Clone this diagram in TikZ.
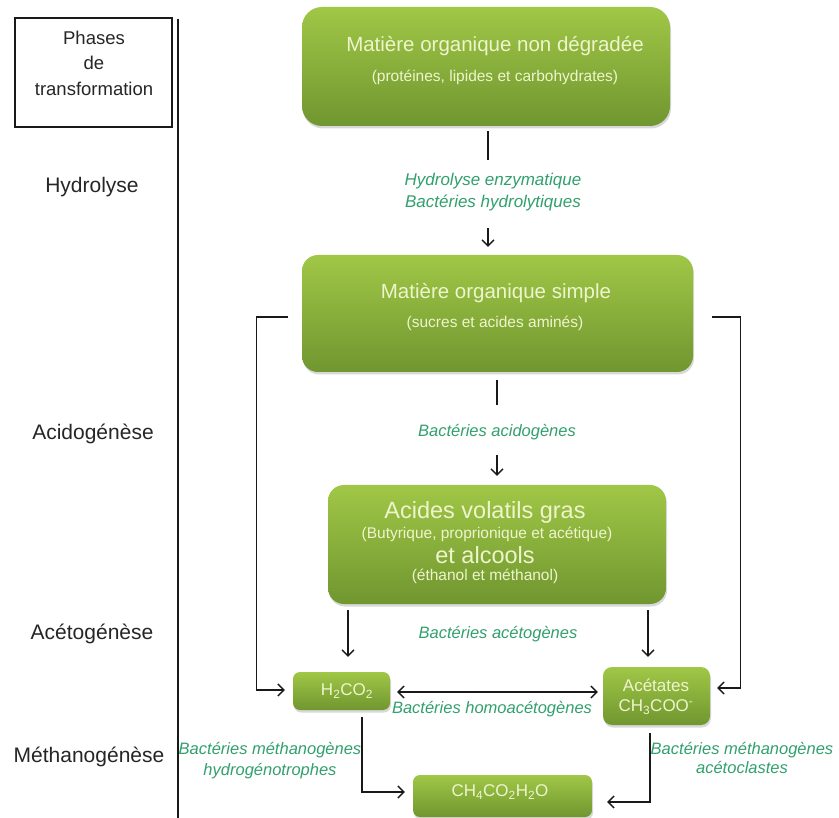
\documentclass[tikz,border=0pt]{standalone}
\usepackage{fontspec}
\setmainfont{Liberation Sans}
\usetikzlibrary{arrows.meta,shadows}
\definecolor{gtop}{RGB}{160,199,70}
\definecolor{gbot}{RGB}{112,150,48}
\definecolor{gtxt}{RGB}{238,245,204}
\definecolor{lblcol}{RGB}{50,160,110}
\definecolor{ink}{RGB}{25,25,25}
\begin{document}
\begin{tikzpicture}[x=1pt,y=-1pt,
  plain/.style={draw=ink,line width=1.3pt},
  arr/.style={draw=ink,line width=1.3pt,-{Straight Barb[length=6pt,width=12pt,line width=1.3pt]}},
  arrtwo/.style={draw=ink,line width=1.3pt,{Straight Barb[length=6pt,width=12pt,line width=1.3pt]}-{Straight Barb[length=6pt,width=12pt,line width=1.3pt]}},
  gbox/.style={rounded corners=#1, top color=gtop, bottom color=gbot, draw=none, inner sep=0pt,
    drop shadow={shadow xshift=1pt,shadow yshift=-2.5pt,opacity=0.3}},
  gbox/.default=14pt,
  ttl/.style={text=gtxt, font=\fontsize{20.5}{24}\selectfont, inner sep=0pt},
  bigttl/.style={text=gtxt, font=\fontsize{23.5}{27}\selectfont, inner sep=0pt},
  subtxt/.style={text=gtxt, font=\fontsize{15.5}{18}\selectfont, inner sep=0pt},
  smalltxt/.style={text=gtxt, font=\fontsize{17}{20}\selectfont, inner sep=0pt, align=center},
  lblst/.style={text=lblcol, font=\itshape\fontsize{16.5}{21}\selectfont, align=center, inner sep=0pt},
  phase/.style={text=black!85, font=\fontsize{21}{25}\selectfont, inner sep=0pt},
]
\fill[white] (0,0) rectangle (839,818);
\useasboundingbox (0,0) rectangle (839,818);

% left column
\node[draw=ink, line width=1.2pt, minimum width=157pt, minimum height=109pt, inner sep=0pt] (phbox) at (93.5,72.5) {};
\node[text=black!85, font=\fontsize{18.5}{25.5}\selectfont, align=center, inner sep=0pt] (phtxt) at (94,63) {Phases\\de\\transformation};
\coordinate (vtop) at (178,19);
\coordinate (vbot) at (178,818);
\draw[plain] (vtop) -- (vbot);
\node[phase] (ph1) at (92,187) {Hydrolyse};
\node[phase] (ph2) at (93,434) {Acidogénèse};
\node[phase] (ph3) at (92,634) {Acétogénèse};
\node[phase] (ph4) at (89,757) {Méthanogénèse};

% boxes
\node[gbox=20pt, minimum width=368pt, minimum height=119pt] (b1) at (486,66.5) {};
\node[ttl] (b1t) at (495,46) {Matière organique non dégradée};
\node[subtxt] (b1s) at (495,77) {(protéines, lipides et carbohydrates)};

\node[gbox=16pt, minimum width=391pt, minimum height=117pt] (b2) at (497.5,313.5) {};
\node[ttl] (b2t) at (496,293) {Matière organique simple};
\node[subtxt] (b2s) at (495,323) {(sucres et acides aminés)};

\node[gbox=16pt, minimum width=338pt, minimum height=119pt] (b3) at (497,544.5) {};
\node[bigttl] (b3t) at (485,512) {Acides volatils gras};
\node[subtxt] (b3s) at (487,534) {(Butyrique, proprionique et acétique)};
\node[bigttl] (b3u) at (485,555) {et alcools};
\node[subtxt] (b3v) at (485,576) {(éthanol et méthanol)};

\node[gbox=7pt, minimum width=97pt, minimum height=38pt] (h2) at (341.5,691) {};
\node[smalltxt] (h2t) at (347,691) {H\textsubscript{2}CO\textsubscript{2}};

\node[gbox=9pt, minimum width=107pt, minimum height=58pt] (ac) at (656.5,696) {};
\node[smalltxt] (act) at (656,697) {Acétates\\CH\textsubscript{3}COO\textsuperscript{-}};

\node[gbox=7pt, minimum width=179pt, minimum height=42pt] (ch) at (502.5,796) {};
\node[smalltxt] (cht) at (500,792) {CH\textsubscript{4}CO\textsubscript{2}H\textsubscript{2}O};

% labels
\node[lblst, font=\itshape\fontsize{17}{22}\selectfont] (lhyd) at (493,192) {Hydrolyse enzymatique\\Bactéries hydrolytiques};
\node[lblst] (lacid) at (497,432) {Bactéries acidogènes};
\node[lblst] (lacet) at (498,634) {Bactéries acétogènes};
\node[lblst] (lhomo) at (492,709) {Bactéries homoacétogènes};
\node[lblst] (lmh) at (270,761) {Bactéries méthanogènes\\hydrogénotrophes};
\node[lblst, font=\itshape\fontsize{16.5}{19}\selectfont] (lma) at (742,758) {Bactéries méthanogènes\\acétoclastes};

% connectors
\coordinate (c1b) at (488,160);
\coordinate (c1c) at (488,228);
\draw[plain] ([xshift=2pt,yshift=-5pt]b1.south) -- (c1b);
\draw[arr] (c1c) -- ([xshift=-9.5pt,yshift=8pt]b2.north);

\coordinate (c2b) at (497,405);
\coordinate (c2c) at (497,455);
\draw[plain] ([xshift=-0.5pt,yshift=-8pt]b2.south) -- (c2b);
\draw[arr] (c2c) -- ([yshift=9pt]b3.north);

\draw[arr] ([xshift=-14pt,yshift=-3.5pt]b2.west) -- ++(-31,0) |- ([xshift=-8pt,yshift=1pt]h2.west);
\draw[arr] ([xshift=19pt,yshift=-3.5pt]b2.east) -- ++(28,0) |- ([xshift=7pt,yshift=8pt]ac.east);

\draw[arr] ([xshift=-149pt,yshift=-6pt]b3.south) -- ([xshift=6.5pt,yshift=15pt]h2.north);
\draw[arr] ([xshift=151pt,yshift=-6pt]b3.south) -- ([xshift=-8.5pt,yshift=10pt]ac.north);

\draw[arrtwo] ([xshift=7pt,yshift=-1pt]h2.east) -- ([xshift=-5pt,yshift=4pt]ac.west);

\draw[arr] ([xshift=20.5pt,yshift=-7pt]h2.south) |- ([xshift=-8pt,yshift=4pt]ch.west);
\draw[arr] ([xshift=-6.5pt,yshift=-8pt]ac.south) |- ([xshift=15pt,yshift=-6pt]ch.east);
\end{tikzpicture}
\end{document}
